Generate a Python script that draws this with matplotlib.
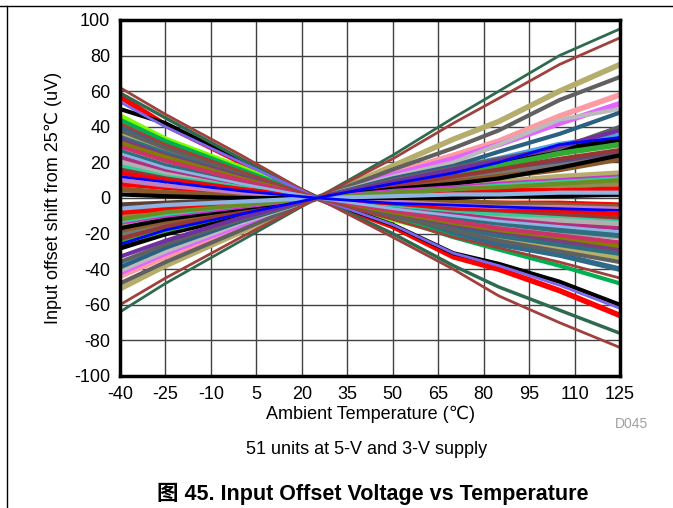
import matplotlib
matplotlib.use('Agg')
import matplotlib.pyplot as plt
from matplotlib.lines import Line2D

plt.rcParams['font.family'] = ['Liberation Sans', 'DejaVu Sans', 'Noto Sans CJK SC']
plt.rcParams['axes.unicode_minus'] = False

temps = [-40, -25, 0, 25, 50, 70, 85, 105, 125]

# units that go down with temperature (positive at -40)
down = [
    [62, 47, 24, 0, -22, -40, -55, -70, -84],
    [59, 45, 22, 0, -20, -38, -50, -63, -76],
    [57, 41, 20, 0, -16, -33, -40, -52, -66],
    [54, 40, 20, 0, -15, -31, -38, -49, -62],
    [50, 42, 21, 0, -15, -31, -37, -47, -60],
    [46, 33, 17, 0, -12, -20, -25, -30, -34],
    [44, 32, 16, 0, -11, -22, -29, -38, -48],
    [42, 30, 15, 0, -12, -22, -28, -36, -45],
    [40, 30, 15, 0, -11, -20, -26, -32, -40],
    [38, 28, 14, 0, -10, -18, -24, -30, -36],
    [36, 26, 13, 0, -9, -17, -22, -28, -33],
    [34, 25, 12, 0, -9, -16, -21, -26, -31],
    [33, 24, 12, 0, -8, -15, -19, -24, -29],
    [31, 23, 11, 0, -8, -14, -18, -22, -27],
    [29, 21, 10, 0, -7, -13, -17, -21, -25],
    [27, 20, 10, 0, -7, -12, -15, -19, -22],
    [26, 18, 9, 0, -6, -11, -14, -18, -21],
    [25, 17, 8, 0, -6, -10, -13, -16, -19],
    [23, 16, 8, 0, -5, -9, -12, -15, -17],
    [22, 15, 7, 0, -5, -8, -11, -13, -16],
    [20, 14, 7, 0, -4, -8, -10, -12, -14],
    [18, 12, 6, 0, -4, -7, -9, -10, -12],
    [16, 11, 5, 0, -3, -6, -7, -9, -11],
    [14, 10, 5, 0, -3, -5, -6, -7, -9],
    [12, 9, 4, 0, -3, -4, -5, -6, -7],
    [10, 7, 3, 0, -2, -4, -5, -5, -6],
    [8, 6, 3, 0, -2, -3, -3, -3, -4],
    [5, 3, 1, 0, -1, -2, -3, -4, -5],
    [2, 1, 0, 0, 0, 0, 1, 1, 2],
]
down_colors = ['#A0403C', '#2E6B4E', '#FF0000', '#7B68EE', '#000000', '#7CFC00',
               '#00B050', '#A0403C', '#2E6B8A', '#606060', '#B5AD6B', '#2F6F7F',
               '#7B3F7B', '#808000', '#CC3366', '#A9A9A9', '#2F6F7F', '#8DB4E2',
               '#B03080', '#C4BD97', '#B0B0B0', '#33CC99', '#963634', '#FF0000',
               '#0000FF', '#C080C0', '#FF0000', '#8B5A2B', '#000000']
down_widths = [2, 2.5, 4, 2, 3, 4, 3, 2, 4, 3, 4, 4, 3, 3, 3, 4, 4, 2, 3, 4,
               4, 3, 3, 3, 2, 3, 4, 4, 3]

# units that go up with temperature (negative at -40)
up = [
    [-64, -48, -24, 0, 24, 45, 60, 80, 95],
    [-60, -45, -22, 0, 22, 42, 56, 75, 90],
    [-51, -38, -19, 0, 18, 33, 43, 60, 75],
    [-48, -36, -18, 0, 16, 28, 38, 55, 68],
    [-44, -33, -16, 0, 14, 24, 32, 46, 58],
    [-42, -31, -15, 0, 13, 22, 30, 42, 53],
    [-41, -30, -14, 0, 12, 20, 30, 44, 50],
    [-39, -28, -13, 0, 11, 18, 26, 36, 48],
    [-38, -27, -13, 0, 10, 17, 22, 30, 35],
    [-36, -26, -12, 0, 10, 17, 22, 28, 40],
    [-33, -24, -11, 0, 9, 16, 21, 29, 38],
    [-28, -20, -10, 0, 8, 14, 19, 27, 33],
    [-26, -18, -9, 0, 8, 14, 20, 30, 34],
    [-25, -18, -8, 0, 7, 13, 18, 25, 30],
    [-23, -16, -8, 0, 7, 12, 16, 22, 27],
    [-22, -15, -7, 0, 6, 11, 15, 20, 25],
    [-20, -14, -7, 0, 6, 10, 14, 18, 23],
    [-18, -13, -6, 0, 5, 9, 12, 16, 22],
    [-17, -12, -6, 0, 5, 8, 11, 17, 24],
    [-15, -11, -5, 0, 4, 7, 9, 12, 14],
    [-14, -10, -5, 0, 4, 6, 8, 10, 12],
    [-13, -9, -4, 0, 3, 5, 7, 9, 11],
    [-12, -8, -4, 0, 3, 5, 6, 8, 10],
    [-10, -7, -3, 0, 3, 4, 5, 7, 8],
    [-8, -6, -3, 0, 2, 3, 4, 4, 5],
    [-6, -4, -2, 0, 1, 2, 2, 3, 3],
    [-4, -3, -1, 0, 1, 1, 2, 2, 2],
]
up_colors = ['#2E6B4E', '#A0403C', '#B5AD6B', '#606060', '#FF9AA2', '#E066FF',
             '#BBBBBB', '#2A6080', '#4CA6E0', '#606060', '#7030A0', '#000000',
             '#0000FF', '#33AA33', '#953735', '#604A7B', '#777777', '#8B5A2B',
             '#000000', '#B5AD6B', '#CC33CC', '#33CC99', '#6B8E23', '#948A54',
             '#FF0000', '#8DB4E2', '#5C4033']
up_widths = [2, 2, 4, 3, 4, 4, 3, 3, 4, 3, 3, 4, 2, 4, 3, 4, 4, 4, 3, 4,
             3, 3, 3, 4, 4, 3, 4]

fig = plt.figure(figsize=(6.73, 5.08), dpi=100)
ax = fig.add_axes([120/673, 132/508, 500/673, 356/508])

# thick lines first, thin ones on top
series = list(zip(down, down_colors, down_widths)) + list(zip(up, up_colors, up_widths))
series.sort(key=lambda s: -s[2])
for vals, c, w in series:
    ax.plot(temps, vals, color=c, lw=w, solid_capstyle='butt', zorder=3)

ax.set_xlim(-40, 125)
ax.set_ylim(-100, 100)
ax.set_xticks(range(-40, 126, 15))
ax.set_yticks(range(-100, 101, 20))
ax.grid(True, color='#404040', lw=1)
ax.set_axisbelow(True)
ax.tick_params(length=0, labelsize=13, pad=7)
for sp in ax.spines.values():
    sp.set_linewidth(2.5)
    sp.set_zorder(5)

ax.set_xlabel('Ambient Temperature (℃)', fontsize=13, labelpad=2)
ax.set_ylabel('Input offset shift from 25℃ (uV)', fontsize=13, labelpad=9)

fig.text(632/673, 1 - 424/508, 'D045', color='#a0a0a0', fontsize=10, ha='center', va='center')
fig.text(367/673, 1 - 449/508, '51 units at 5-V and 3-V supply', fontsize=13,
         ha='center', va='center')
fig.text(373/673, 1 - 494/508, '图 45. Input Offset Voltage vs Temperature', fontsize=15.5,
         fontweight='bold', ha='center', va='center',
         family=['Liberation Sans', 'Noto Sans CJK SC'])

# page frame lines
fig.add_artist(Line2D([0, 1], [1 - 6/508, 1 - 6/508], color='black', lw=1))
fig.add_artist(Line2D([7/673, 7/673], [0, 1 - 6/508], color='black', lw=1))

fig.savefig('out.png', dpi=100)
